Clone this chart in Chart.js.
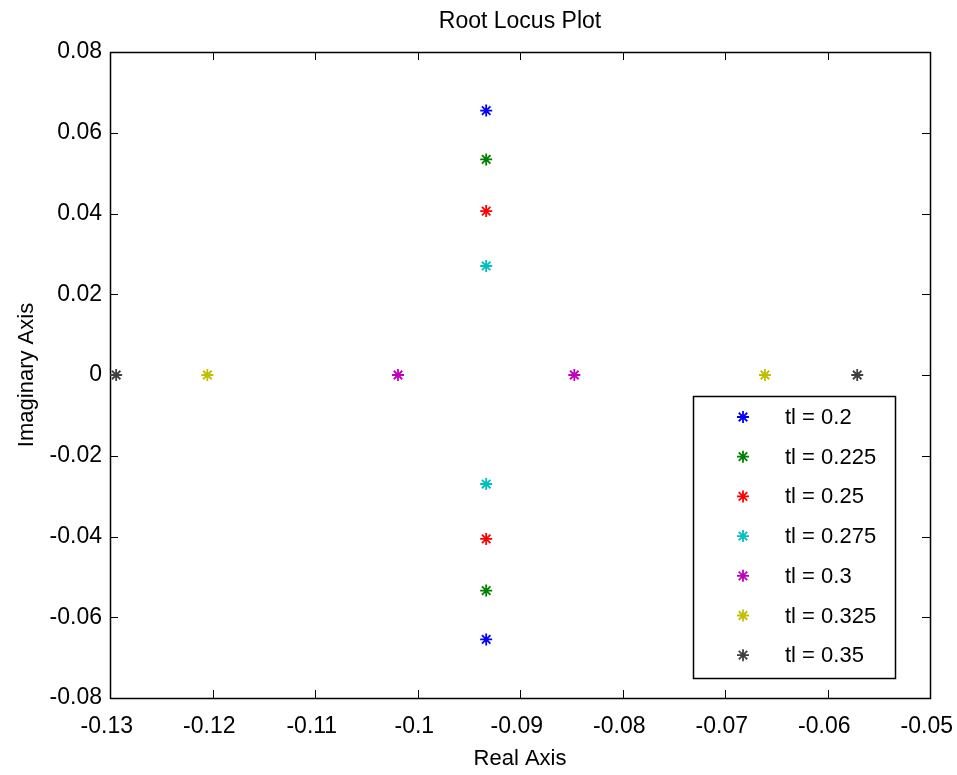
<!DOCTYPE html>
<html>
<head>
<meta charset="utf-8">
<title>Root Locus Plot</title>
<script src="https://cdn.jsdelivr.net/npm/chart.js@4/dist/chart.umd.min.js"></script>
<style>
  html, body { margin: 0; padding: 0; background: #ffffff; }
  #wrap { width: 957px; height: 775px; }
</style>
</head>
<body>
<div id="wrap"><canvas id="rootlocus" width="957" height="775"></canvas></div>
<script>
// datos (polos para cada valor de tl)
var seriesLabels = ['tl = 0.2', 'tl = 0.225', 'tl = 0.25', 'tl = 0.275', 'tl = 0.3', 'tl = 0.325', 'tl = 0.35'];
var realParts = [
    [-0.0933, -0.0933],
    [-0.0933, -0.0933],
    [-0.0933, -0.0933],
    [-0.0933, -0.0933],
    [-0.1019, -0.0847],
    [-0.1205, -0.0661],
    [-0.1294, -0.0571]
];
var imagParts = [
    [0.0655, -0.0655],
    [0.0534, -0.0534],
    [0.0406, -0.0406],
    [0.0270, -0.0270],
    [0, 0],
    [0, 0],
    [0, 0]
];
var xTicks = [-0.13, -0.12, -0.11, -0.1, -0.09, -0.08, -0.07, -0.06, -0.05];
var yTicks = [-0.08, -0.06, -0.04, -0.02, 0, 0.02, 0.04, 0.06, 0.08];

var colores = ['#0000ff', '#008000', '#ff0000', '#00bfbf', '#bf00bf', '#bfbf00', '#404040'];
var fuente = "'Liberation Sans', Arial, Helvetica, sans-serif";

var datasets = [];
for (var i = 0; i < seriesLabels.length; i++) {
    var puntos = [];
    for (var j = 0; j < realParts[i].length; j++) {
        puntos.push({x: realParts[i][j], y: imagParts[i][j]});
    }
    datasets.push({
        label: seriesLabels[i],
        data: puntos,
        showLine: false,
        pointStyle: 'star',
        pointRadius: 6,
        pointHoverRadius: 6,
        pointBorderWidth: 1.8,
        borderColor: colores[i],
        backgroundColor: colores[i],
        clip: false
    });
}

function formato(v) {
    return parseFloat(Number(v).toFixed(2)).toString();
}

// centrar el titulo sobre el area de dibujo
var tituloCentrado = {
    id: 'tituloCentrado',
    afterLayout: function (chart) {
        if (chart.titleBlock) {
            chart.titleBlock.left = chart.chartArea.left;
            chart.titleBlock.right = chart.chartArea.right;
        }
    }
};

// caja de ejes con marcas hacia dentro (estilo matlab)
var cajaEjes = {
    id: 'cajaEjes',
    beforeDatasetsDraw: function (chart) {
        var ctx = chart.ctx;
        var a = chart.chartArea;
        var xs = chart.scales.x, ys = chart.scales.y;
        var largo = 8;
        ctx.save();
        ctx.strokeStyle = '#000000';
        ctx.lineWidth = 1;
        ctx.beginPath();
        for (var i = 0; i < xTicks.length; i++) {
            var px = Math.round(xs.getPixelForValue(xTicks[i])) + 0.5;
            ctx.moveTo(px, a.bottom); ctx.lineTo(px, a.bottom - largo);
            ctx.moveTo(px, a.top); ctx.lineTo(px, a.top + largo);
        }
        for (var k = 0; k < yTicks.length; k++) {
            var py = Math.round(ys.getPixelForValue(yTicks[k])) + 0.5;
            ctx.moveTo(a.left, py); ctx.lineTo(a.left + largo, py);
            ctx.moveTo(a.right, py); ctx.lineTo(a.right - largo, py);
        }
        ctx.stroke();
        ctx.lineWidth = 1.5;
        ctx.strokeRect(Math.round(a.left) + 0.5, Math.round(a.top) + 0.5,
                Math.round(a.right - a.left), Math.round(a.bottom - a.top));
        ctx.restore();
    }
};

// leyenda dentro del area de dibujo, abajo a la derecha
var leyendaDentro = {
    id: 'leyendaDentro',
    afterDatasetsDraw: function (chart) {
        var ctx = chart.ctx;
        var a = chart.chartArea;
        var ancho = 202, alto = 282;
        var x0 = Math.round(a.right - 35 - ancho);
        var y0 = Math.round(a.bottom - 20 - alto);
        ctx.save();
        ctx.fillStyle = '#ffffff';
        ctx.fillRect(x0, y0, ancho, alto);
        ctx.strokeStyle = '#000000';
        ctx.lineWidth = 1.5;
        ctx.strokeRect(x0 + 0.5, y0 + 0.5, ancho, alto);
        ctx.font = '22px ' + fuente;
        ctx.textBaseline = 'middle';
        ctx.textAlign = 'left';
        var ds = chart.data.datasets;
        for (var i = 0; i < ds.length; i++) {
            var yy = y0 + 21 + i * 39.7;
            ctx.strokeStyle = ds[i].borderColor;
            ctx.fillStyle = ds[i].borderColor;
            ctx.lineWidth = 1.8;
            Chart.helpers.drawPoint(ctx, {pointStyle: 'star', radius: 6, borderWidth: 1.8, rotation: 0}, x0 + 50, yy);
            ctx.fillStyle = '#000000';
            ctx.fillText(ds[i].label, x0 + 92, yy + 1);
        }
        ctx.restore();
    }
};

var ctx = document.getElementById('rootlocus').getContext('2d');
var chart = new Chart(ctx, {
    type: 'scatter',
    data: {datasets: datasets},
    options: {
        responsive: false,
        animation: false,
        layout: {padding: {left: 0, right: 27, top: 0, bottom: 0}},
        plugins: {
            legend: {display: false},
            tooltip: {enabled: false},
            title: {
                display: true,
                text: 'Root Locus Plot',
                color: '#000000',
                font: {family: fuente, size: 23, weight: 'normal', lineHeight: 1.2},
                padding: {top: 8, bottom: 16.4}
            }
        },
        scales: {
            x: {
                type: 'linear',
                min: -0.13,
                max: -0.05,
                afterBuildTicks: function (scale) {
                    scale.ticks = xTicks.map(function (v) { return {value: v}; });
                },
                afterFit: function (scale) {
                    scale.height = 77;
                    scale.paddingLeft = 0;
                    scale.paddingRight = 0;
                },
                grid: {display: true, drawOnChartArea: false, drawTicks: false},
                border: {display: false},
                ticks: {
                    color: '#000000',
                    padding: 15,
                    maxRotation: 0,
                    autoSkip: false,
                    font: {family: fuente, size: 23},
                    // espacio final: la etiqueta queda un poco a la izquierda como en matlab
                    callback: function (v) { return formato(v) + '\u00a0'; }
                },
                title: {
                    display: true,
                    text: 'Real Axis',
                    color: '#000000',
                    font: {family: fuente, size: 22},
                    padding: {top: 0, bottom: 3}
                }
            },
            y: {
                type: 'linear',
                min: -0.08,
                max: 0.08,
                afterBuildTicks: function (scale) {
                    scale.ticks = yTicks.map(function (v) { return {value: v}; });
                },
                afterFit: function (scale) {
                    scale.width = 110;
                    scale.paddingTop = 0;
                    scale.paddingBottom = 0;
                },
                grid: {display: true, drawOnChartArea: false, drawTicks: false},
                border: {display: false},
                ticks: {
                    color: '#000000',
                    padding: 8,
                    autoSkip: false,
                    font: {family: fuente, size: 23},
                    callback: function (v) { return formato(v); }
                },
                title: {
                    display: true,
                    text: 'Imaginary Axis',
                    color: '#000000',
                    font: {family: fuente, size: 22},
                    padding: {top: 14, bottom: 0}
                }
            }
        }
    },
    plugins: [tituloCentrado, cajaEjes, leyendaDentro]
});
</script>
</body>
</html>
